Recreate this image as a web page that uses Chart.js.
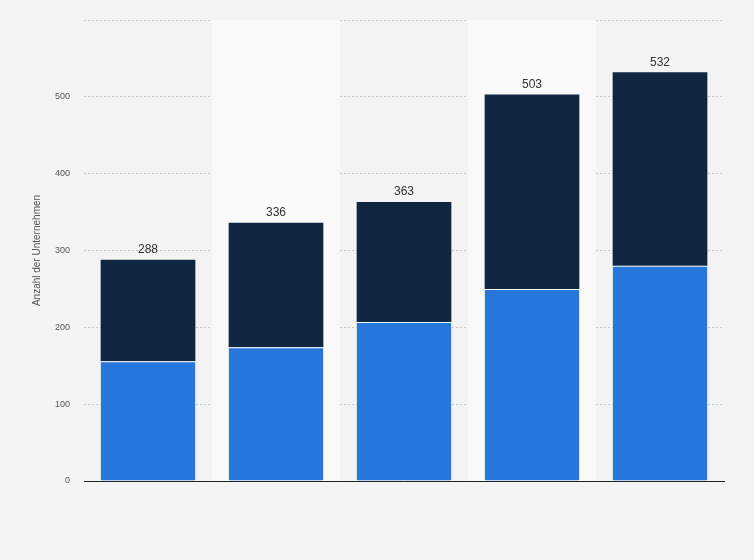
<!DOCTYPE html>
<html><head><meta charset="utf-8">
<script src="https://cdn.jsdelivr.net/npm/chart.js@4"></script>
<style>html,body{margin:0;padding:0;background:#f4f4f4}#w{width:754px;height:560px}</style>
</head><body><div id="w"><canvas id="c"></canvas></div>
<script>
const categories = ["1","2","3","4","5"];
const seriesLower = [156, 174, 207, 250, 280];
const seriesUpper = [132, 162, 156, 253, 252];
const totals = [288, 336, 363, 503, 532];
const yTicks = [0,100,200,300,400,500,600];

const bands = {id:'bands', beforeDatasetsDraw(ch){
  const {ctx, chartArea:a} = ch;
  const w = (a.right-a.left)/categories.length;
  ctx.save(); ctx.fillStyle='#fafafa';
  categories.forEach((c,i)=>{ if(i%2===1) ctx.fillRect(a.left+i*w, a.top, w, a.bottom-a.top); });
  ctx.restore();
}};
const labels = {id:'lbl', afterDatasetsDraw(ch){
  const {ctx} = ch; const m = ch.getDatasetMeta(1);
  ctx.save(); ctx.font='12px "Liberation Sans", Arial'; ctx.fillStyle='#333'; ctx.textAlign='center'; ctx.textBaseline='bottom';
  m.data.forEach((b,i)=>ctx.fillText(totals[i], b.x, b.y-4));
  ctx.restore();
}};
new Chart(document.getElementById('c'), {
  type:'bar',
  data:{labels:categories, datasets:[
    {data:seriesLower, backgroundColor:'#2776dc', borderColor:'#ffffff', borderWidth:{top:1}, borderSkipped:false, categoryPercentage:0.74, barPercentage:1},
    {data:seriesUpper, backgroundColor:'#0f2740', categoryPercentage:0.74, barPercentage:1}
  ]},
  options:{responsive:true, maintainAspectRatio:false, animation:false,
    layout:{padding:{left:31,right:30,top:20,bottom:71}},
    plugins:{legend:{display:false}, tooltip:{enabled:false}},
    scales:{
      x:{stacked:true, grid:{display:false}, border:{color:'#222',width:1}, ticks:{display:false}},
      y:{stacked:true, min:0, max:600, afterBuildTicks(s){s.ticks=yTicks.map(v=>({value:v}));},
        afterFit(s){s.width=53;},
        ticks:{color:'#555', font:{size:9,family:'"Liberation Sans", Arial'}, padding:14, callback:v=>v===600?'':v},
        grid:{color:'#c8c8c8', drawTicks:false}, border:{display:false, dash:[2,2]},
        title:{display:true, text:'Anzahl der Unternehmen', color:'#555', padding:0, font:{size:10,family:'"Liberation Sans", Arial'}}}
    }},
  plugins:[bands, labels]
});
</script></body></html>
